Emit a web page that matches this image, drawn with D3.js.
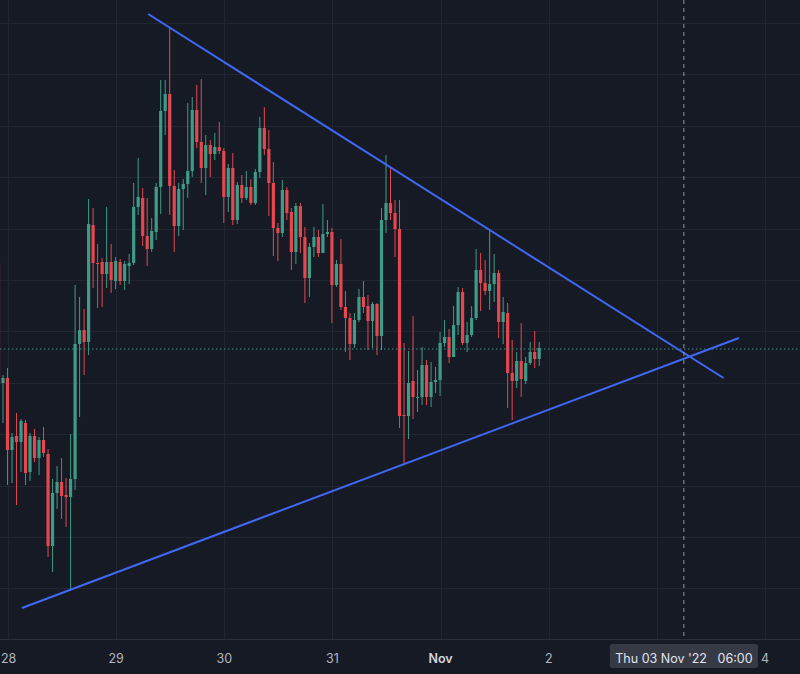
<!DOCTYPE html>
<html>
<head>
<meta charset="utf-8">
<script src="https://d3js.org/d3.v7.min.js"></script>
<style>
  body { margin: 0; background: #161a25; }
  svg { display: block; }
  text { font-family: Inter, "Noto Sans", sans-serif; }
</style>
</head>
<body>
<script>
// hourly candles, first one at 27 Oct 22:00 (hour -2 from 28 Oct 00:00)
const startHour = -2;
const open  = [437,317,322,250,264,258,277,228,264,242,260,246,154,207,218,205,203,221,356,370,358,475,437,438,426,438,419,438,419,434,437,493,502,464,451,468,513,589,606,514,474,511,516,529,590,558,532,555,546,553,549,503,532,480,515,502,513,497,528,572,551,517,472,467,510,488,448,494,463,422,453,463,447,466,468,415,436,393,382,356,380,403,394,379,396,364,480,497,487,471,285,284,319,302,303,335,303,318,320,357,363,343,375,408,357,365,382,430,417,409,416,427,378,387,327,319,339,319,337,348,341];
const high  = [445,325,332,267,287,281,280,267,271,263,273,251,221,234,242,222,266,415,403,391,501,492,456,442,493,456,443,441,439,446,517,542,512,502,482,517,620,620,673,530,517,521,597,603,615,621,565,560,567,578,552,536,547,518,525,529,521,531,583,593,570,538,477,520,513,492,497,497,473,457,473,470,496,480,472,440,461,409,387,387,411,419,405,398,397,492,545,533,500,500,357,349,384,330,353,340,338,333,368,380,371,394,413,412,378,394,451,447,440,471,446,430,403,397,360,348,377,343,358,369,358];
const low   = [310,277,215,217,195,228,215,219,238,225,243,143,128,191,181,173,110,210,283,325,345,412,392,393,412,407,411,415,410,416,435,485,454,434,448,460,486,565,485,448,464,470,502,523,552,517,505,523,540,546,477,488,475,476,497,500,495,495,522,545,484,444,439,463,480,430,436,447,397,403,443,443,447,463,377,413,390,348,340,352,378,387,350,352,345,350,467,480,443,272,236,261,281,288,295,295,293,307,304,353,337,343,365,355,348,363,380,389,405,390,398,362,356,292,280,312,303,316,335,332,334];
const close = [315,322,250,263,258,279,227,264,242,260,247,154,207,218,204,203,221,356,370,358,476,437,436,426,438,420,439,419,436,437,493,503,464,451,469,513,589,606,514,474,511,516,529,590,558,532,555,546,553,549,503,532,480,515,502,513,497,528,572,551,517,472,467,510,487,448,494,463,422,453,463,447,466,468,415,436,393,382,356,380,403,393,379,396,364,480,497,487,471,284,284,317,303,303,335,303,318,320,357,363,343,375,408,357,365,382,430,417,409,416,427,378,388,327,319,339,321,337,348,341,352];

const dayTicks = [0, 24, 48, 72, 96, 120, 144, 168];
// the "3" tick sits under the crosshair label, as in the picture
const dayLabels = ["28", "29", "30", "31", "Nov", "2", "", "4"];
const priceGrid = [677, 625.6, 574.2, 522.8, 471.4, 420, 368.6, 317.2, 265.8, 214.4, 163, 111.6];
const lastPrice = 351;
// trendlines: [hour, price]
const upperLine = [[31.1, 686], [158.8, 322]];
const lowerLine = [[3.1, 92], [162.2, 362]];
const crossHour = 150;
const crossLabel = "Thu 03 Nov '22   06:00";

const W = 800, H = 674, axisY = 639;
const up = "#3f9b85", down = "#e6474f";

const x = d3.scaleLinear().domain([0, 1]).range([8, 8 + 4.506]);
const y = d3.scaleLinear().domain([0, 700]).range([700, 0]);

const svg = d3.select("body").append("svg").attr("width", W).attr("height", H);
svg.append("rect").attr("width", W).attr("height", H).attr("fill", "#161a25");

const grid = svg.append("g").attr("stroke", "#222633").attr("stroke-width", 1);
grid.selectAll("line.v").data(dayTicks).enter().append("line")
  .attr("x1", d => Math.round(x(d)) + 0.5).attr("x2", d => Math.round(x(d)) + 0.5)
  .attr("y1", 0).attr("y2", axisY);
grid.selectAll("line.h").data(priceGrid).enter().append("line")
  .attr("x1", 0).attr("x2", W)
  .attr("y1", d => Math.round(y(d)) + 0.5).attr("y2", d => Math.round(y(d)) + 0.5);

// candles
const candles = open.map((o, i) => ({ h: startHour + i, o, hi: high[i], lo: low[i], c: close[i] }));
const cg = svg.append("g");
cg.selectAll("line").data(candles).enter().append("line")
  .attr("x1", d => x(d.h) - 0.5).attr("x2", d => x(d.h) - 0.5)
  .attr("y1", d => y(d.hi)).attr("y2", d => y(d.lo))
  .attr("stroke", d => d.c >= d.o ? up : down).attr("stroke-width", 1);
cg.selectAll("rect").data(candles).enter().append("rect")
  .attr("x", d => x(d.h) - 2.1).attr("width", 3.2)
  .attr("y", d => y(Math.max(d.o, d.c)))
  .attr("height", d => Math.max(1, Math.abs(y(d.o) - y(d.c))))
  .attr("fill", d => d.c >= d.o ? up : down);

// last price line
svg.append("line").attr("x1", 0).attr("x2", W)
  .attr("y1", y(lastPrice)).attr("y2", y(lastPrice))
  .attr("stroke", "#3f8f84").attr("stroke-dasharray", "1.5,2.5").attr("stroke-width", 1);

// trendlines
const line = d3.line().x(d => x(d[0])).y(d => y(d[1]));
[upperLine, lowerLine].forEach(l => {
  svg.append("path").attr("d", line(l)).attr("fill", "none")
    .attr("stroke", "#4168f5").attr("stroke-width", 2);
});

// crosshair
svg.append("line").attr("x1", x(crossHour)).attr("x2", x(crossHour))
  .attr("y1", 0).attr("y2", axisY)
  .attr("stroke", "#9598a1").attr("stroke-dasharray", "4,4").attr("stroke-width", 1);

// axis
svg.append("line").attr("x1", 0).attr("x2", W).attr("y1", axisY + 0.5).attr("y2", axisY + 0.5)
  .attr("stroke", "#2a2e39");
svg.append("g").selectAll("text").data(dayTicks).enter().append("text")
  .attr("x", d => x(d)).attr("y", 663)
  .attr("text-anchor", d => d === 0 ? "start" : "middle")
  .attr("dx", d => d === 0 ? -7 : 0)
  .attr("font-size", 12.5)
  .attr("font-weight", (d, i) => dayLabels[i] === "Nov" ? 600 : 400)
  .attr("fill", (d, i) => dayLabels[i] === "Nov" ? "#d1d4dc" : "#b2b5be")
  .text((d, i) => dayLabels[i]);

// crosshair label
svg.append("rect").attr("x", x(crossHour) - 74).attr("y", 644).attr("width", 148).attr("height", 24)
  .attr("rx", 2).attr("fill", "#363a45");
svg.append("text").attr("x", x(crossHour)).attr("y", 663).attr("text-anchor", "middle")
  .attr("font-size", 12.5).attr("fill", "#e0e3eb").attr("xml:space", "preserve")
  .style("white-space", "pre").text(crossLabel);
</script>
</body>
</html>
